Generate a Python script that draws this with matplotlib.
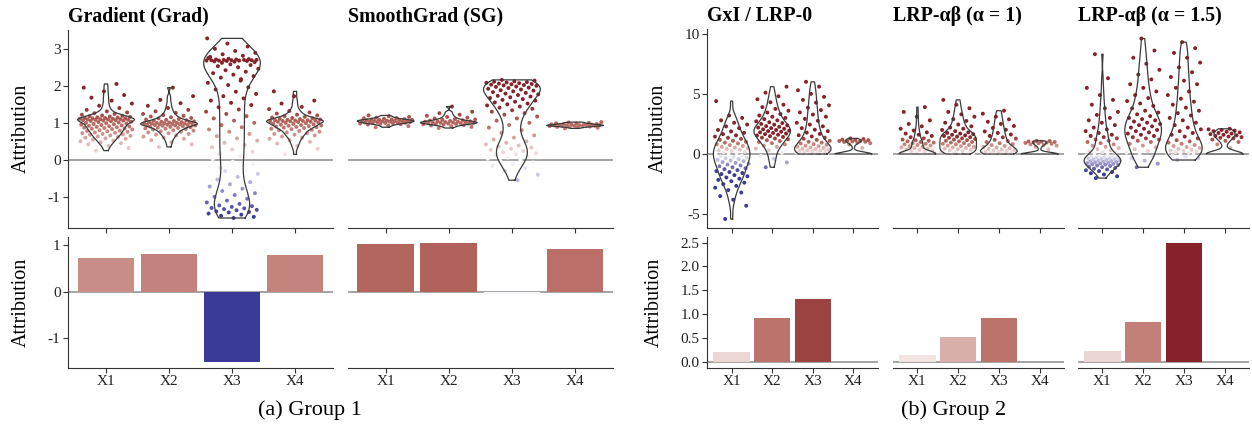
import numpy as np
import matplotlib
matplotlib.use("Agg")
import matplotlib.pyplot as plt
from matplotlib.colors import LinearSegmentedColormap, Normalize

plt.rcParams['font.family'] = ['Liberation Serif', 'DejaVu Serif']
plt.rcParams['axes.unicode_minus'] = False

features = ['X1', 'X2', 'X3', 'X4']

# ---- per-sample attributions (top row) ----
grad_x1 = [0.25, 0.32, 0.38, 0.42, 0.45, 0.48, 0.50, 0.52, 0.55, 0.57, 0.58, 0.60, 0.62, 0.63, 0.65,
           0.66, 0.68, 0.69, 0.70, 0.72, 0.73, 0.74, 0.76, 0.77, 0.78, 0.79, 0.80, 0.82, 0.83, 0.84,
           0.85, 0.86, 0.87, 0.88, 0.89, 0.90, 0.91, 0.92, 0.93, 0.94, 0.95, 0.96, 0.97, 0.98, 0.99,
           1.00, 1.01, 1.02, 1.03, 1.04, 1.05, 1.06, 1.06, 1.07, 1.07, 1.08, 1.08, 1.09, 1.09, 1.10,
           1.10, 1.11, 1.11, 1.12, 1.12, 1.13, 1.13, 1.14, 1.15, 1.16, 1.17, 1.18, 1.19, 1.20, 1.22,
           1.24, 1.26, 1.28, 1.31, 1.35, 1.40, 1.46, 1.52, 1.60, 1.68, 1.75, 1.85, 1.95, 2.05]
grad_x2 = [0.35, 0.42, 0.48, 0.53, 0.57, 0.60, 0.63, 0.66, 0.68, 0.70, 0.72, 0.74, 0.76, 0.77, 0.79,
           0.80, 0.82, 0.83, 0.84, 0.85, 0.86, 0.87, 0.88, 0.89, 0.90, 0.91, 0.92, 0.93, 0.93, 0.94,
           0.94, 0.95, 0.95, 0.96, 0.96, 0.97, 0.97, 0.98, 0.98, 0.99, 0.99, 1.00, 1.00, 1.01, 1.01,
           1.02, 1.02, 1.03, 1.04, 1.05, 1.06, 1.07, 1.08, 1.09, 1.10, 1.12, 1.13, 1.15, 1.17, 1.19,
           1.21, 1.24, 1.27, 1.31, 1.35, 1.40, 1.46, 1.53, 1.62, 1.72, 1.95]
grad_x3 = [2.62, 2.64, 2.65, 2.66, 2.67, 2.67, 2.68, 2.68, 2.68, 2.69, 2.69, 2.69, 2.70, 2.70, 2.70,
           2.71, 2.71, 2.72, 2.73, 2.75,
           2.18, 2.22, 2.26, 2.30, 2.34, 2.38, 2.42, 2.46, 2.50, 2.53, 2.56, 2.58, 2.78, 2.81, 2.85,
           2.89, 2.94, 3.00, 3.06, 3.14, 3.28,
           0.10, 0.16, 0.22, 0.28, 0.34, 0.40, 0.46, 0.52, 0.58, 0.64, 0.70, 0.76, 0.82, 0.88, 0.94,
           1.00, 1.06, 1.12, 1.18, 1.24, 1.30, 1.36, 1.42, 1.48, 1.54, 1.60, 1.66, 1.72, 1.78, 1.84,
           1.90, 1.96, 2.02, 2.08, 2.14,
           -0.22, -0.12, -0.05, 0.02, 0.07,
           -0.30, -0.38, -0.46, -0.53, -0.60, -0.66, -0.72, -0.78, -0.84, -0.90, -0.95, -1.00, -1.05,
           -1.10, -1.15, -1.19, -1.23, -1.25, -1.27, -1.30, -1.31, -1.33, -1.35, -1.36, -1.39, -1.41,
           -1.42, -1.45, -1.48, -1.51, -1.54, -1.57]
grad_x4 = [0.15, 0.30, 0.38, 0.44, 0.49, 0.53, 0.57, 0.60, 0.63, 0.66, 0.68, 0.70, 0.72, 0.74, 0.76,
           0.78, 0.80, 0.81, 0.83, 0.84, 0.86, 0.87, 0.88, 0.89, 0.90, 0.91, 0.92, 0.93, 0.94, 0.95,
           0.96, 0.97, 0.98, 0.99, 1.00, 1.01, 1.02, 1.03, 1.03, 1.04, 1.04, 1.05, 1.05, 1.06, 1.06,
           1.07, 1.07, 1.08, 1.09, 1.10, 1.11, 1.12, 1.13, 1.14, 1.16, 1.18, 1.20, 1.22, 1.25, 1.28,
           1.32, 1.37, 1.43, 1.52, 1.60, 1.72, 1.85]

sg_x1 = [0.88, 0.91, 0.93, 0.95, 0.96, 0.97, 0.98, 0.99, 0.99, 1.00, 1.00, 1.01, 1.01, 1.02, 1.02,
         1.03, 1.03, 1.04, 1.04, 1.05, 1.05, 1.05, 1.06, 1.06, 1.07, 1.07, 1.08, 1.08, 1.09, 1.09,
         1.10, 1.11, 1.12, 1.13, 1.14, 1.16, 1.18, 1.20]
sg_x2 = [0.86, 0.89, 0.91, 0.93, 0.94, 0.95, 0.96, 0.97, 0.97, 0.98, 0.98, 0.99, 0.99, 1.00, 1.00,
         1.01, 1.01, 1.02, 1.02, 1.03, 1.03, 1.04, 1.04, 1.05, 1.06, 1.07, 1.08, 1.09, 1.10, 1.12,
         1.14, 1.16, 1.19, 1.22, 1.26, 1.30, 1.44]
sg_x3 = [2.16, 2.14, 2.12, 2.11, 2.10, 2.09, 2.08, 2.07, 2.06, 2.05, 2.04, 2.03, 2.02, 2.01, 2.00,
         1.98, 1.97, 1.95, 1.94, 1.92, 1.90, 1.88, 1.87, 1.85, 1.83, 1.81, 1.79, 1.77, 1.75, 1.73,
         1.71, 1.69, 1.67, 1.64, 1.62, 1.60, 1.57, 1.55, 1.52, 1.50, 1.47, 1.44, 1.41, 1.38, 1.34,
         1.30, 1.26, 1.22, 1.17, 1.12, 1.06, 1.00, 0.94, 0.87, 0.80, 0.73, 0.66, 0.60, 0.55, 0.50,
         0.46, 0.42, 0.39, 0.36, 0.33, 0.30, 0.27, 0.24, 0.21, 0.18, 0.15, 0.12, 0.09, 0.06, 0.03,
         0.00, -0.03, -0.07, -0.11, -0.16, -0.22, -0.30, -0.40, -0.55]
sg_x4 = [0.85, 0.87, 0.88, 0.89, 0.90, 0.90, 0.91, 0.91, 0.92, 0.92, 0.92, 0.93, 0.93, 0.93, 0.94,
         0.94, 0.94, 0.95, 0.95, 0.96, 0.96, 0.97, 0.97, 0.98, 0.99, 1.00, 1.01, 1.02]

gxi_x1 = [-5.4, -4.3, -3.8, -3.5, -3.2, -3.0, -2.8, -2.65, -2.5, -2.38, -2.26, -2.15, -2.05, -1.95,
          -1.85, -1.76, -1.67, -1.58, -1.5, -1.42, -1.34, -1.26, -1.18, -1.1, -1.02, -0.95, -0.88,
          -0.81, -0.74, -0.67, -0.6, -0.54, -0.48, -0.42, -0.36, -0.3, -0.24, -0.18, -0.12, -0.06,
          0.0, 0.06, 0.12, 0.18, 0.24, 0.3, 0.36, 0.42, 0.48, 0.54, 0.6, 0.67, 0.74, 0.81, 0.88,
          0.95, 1.02, 1.1, 1.18, 1.26, 1.35, 1.45, 1.55, 1.65, 1.76, 1.88, 2.0, 2.15, 2.3, 2.45, 2.6,
          2.8, 3.0, 3.2, 4.4]
gxi_x2 = [-1.1, -0.7, -0.4, -0.15, 0.1, 0.3, 0.45, 0.6, 0.7, 0.8, 0.9, 1.0, 1.08, 1.15, 1.22, 1.29,
          1.36, 1.42, 1.48, 1.54, 1.6, 1.65, 1.7, 1.75, 1.8, 1.85, 1.9, 1.95, 2.0, 2.05, 2.1, 2.15,
          2.2, 2.26, 2.32, 2.38, 2.44, 2.5, 2.57, 2.64, 2.72, 2.8, 2.9, 3.0, 3.1, 3.2, 3.32, 3.45,
          3.6, 3.75, 3.9, 4.1, 4.3, 4.55, 4.8, 5.1, 5.6]
gxi_x3 = [0.0, 0.02, 0.04, 0.06, 0.08, 0.1, 0.12, 0.15, 0.18, 0.21, 0.24, 0.27, 0.3, 0.33, 0.37, 0.41,
          0.45, 0.5, 0.55, 0.6, 0.65, 0.7, 0.76, 0.82, 0.88, 0.95, 1.02, 1.1, 1.18, 1.27, 1.36, 1.46,
          1.56, 1.67, 1.78, 1.9, 2.02, 2.15, 2.3, 2.45, 2.6, 2.76, 2.92, 3.1, 3.28, 3.46, 3.65, 3.85,
          4.05, 4.27, 4.5, 4.75, 5.0, 5.3, 5.6, 6.0]
gxi_x4 = [0.0] * 25 + [0.5, 0.8, 0.9, 0.95, 1.0, 1.02, 1.05, 1.08, 1.1, 1.12, 1.15, 1.18, 1.2, 1.25,
                       1.3]

ab1_x1 = [0.0] * 30 + [0.05, 0.1, 0.15, 0.2, 0.25, 0.3, 0.35, 0.4, 0.45, 0.5, 0.55, 0.6, 0.65, 0.7,
                       0.75, 0.8, 0.85, 0.9, 0.95, 1.0, 1.05, 1.1, 1.15, 1.2, 1.3, 1.4, 1.5, 1.6,
                       1.7, 1.8, 1.95, 2.1, 2.3, 2.5, 2.8, 3.1, 3.5, 3.9]
ab1_x2 = [0.0, 0.0, 0.02, 0.05, 0.1, 0.15, 0.2, 0.25, 0.3, 0.35, 0.4, 0.45, 0.5, 0.55, 0.6, 0.65, 0.7,
          0.75, 0.8, 0.85, 0.9, 0.95, 1.0, 1.05, 1.1, 1.15, 1.2, 1.25, 1.3, 1.35, 1.4, 1.45, 1.5,
          1.55, 1.6, 1.65, 1.7, 1.75, 1.8, 1.9, 2.0, 2.1, 2.2, 2.3, 2.45, 2.6, 2.75, 2.9, 3.1, 3.3,
          3.5, 3.8, 4.1, 4.5]
ab1_x3 = [0.0, 0.0, 0.02, 0.04, 0.06, 0.08, 0.1, 0.12, 0.14, 0.17, 0.2, 0.23, 0.26, 0.3, 0.34, 0.38,
          0.43, 0.48, 0.54, 0.6, 0.67, 0.74, 0.82, 0.9, 0.99, 1.08, 1.18, 1.28, 1.39, 1.5, 1.62,
          1.75, 1.88, 2.02, 2.17, 2.33, 2.5, 2.68, 2.88, 3.1, 3.35, 3.6]
ab1_x4 = [0.0] * 25 + [0.4, 0.6, 0.7, 0.75, 0.8, 0.85, 0.9, 0.92, 0.95, 0.98, 1.0, 1.02, 1.05, 1.08,
                       1.1]

ab15_x1 = [-2.0, -1.85, -1.7, -1.6, -1.5, -1.42, -1.35, -1.28, -1.22, -1.16, -1.1, -1.05, -1.0, -0.96,
           -0.92, -0.88, -0.85, -0.82, -0.79, -0.76, -0.73, -0.7, -0.67, -0.64, -0.61, -0.58, -0.55,
           -0.52, -0.49, -0.46, -0.43, -0.4, -0.37, -0.34, -0.31, -0.28, -0.25, -0.22, -0.18, -0.14,
           -0.1, -0.05, 0.05, 0.1, 0.15, 0.2, 0.3, 0.4, 0.5, 0.6, 0.7, 0.8, 0.9, 1.0, 1.1, 1.2, 1.3,
           1.4, 1.5, 1.6, 1.75, 1.9, 2.05, 2.2, 2.4, 2.6, 2.8, 3.0, 3.25, 3.5, 3.8, 4.1, 4.5, 4.9,
           5.5, 6.3, 8.3]
ab15_x2 = [-1.1, -0.8, -0.55, -0.35, -0.2, -0.05, 0.1, 0.25, 0.4, 0.55, 0.7, 0.85, 1.0, 1.1, 1.2, 1.3,
           1.4, 1.5, 1.6, 1.7, 1.8, 1.9, 2.0, 2.1, 2.2, 2.3, 2.4, 2.5, 2.6, 2.7, 2.8, 2.9, 3.0, 3.15,
           3.3, 3.45, 3.6, 3.8, 4.0, 4.2, 4.4, 4.65, 4.9, 5.2, 5.5, 5.8, 6.2, 6.6, 7.0, 7.5, 8.0, 8.6,
           9.6]
ab15_x3 = [-0.5, -0.35, -0.22, -0.12, -0.05, 0.0, 0.05, 0.1, 0.15, 0.2, 0.25, 0.3, 0.36, 0.42, 0.5,
           0.58, 0.66, 0.75, 0.85, 0.95, 1.05, 1.15, 1.3, 1.45, 1.6, 1.75, 1.9, 2.05, 2.2, 2.4, 2.6,
           2.8, 3.0, 3.2, 3.4, 3.6, 3.85, 4.1, 4.35, 4.6, 4.9, 5.2, 5.5, 5.8, 6.1, 6.4, 6.8, 7.2, 7.6,
           8.0, 8.4, 8.8, 9.3]
ab15_x4 = [0.0] * 20 + [0.5, 0.8, 1.0, 1.1, 1.2, 1.3, 1.35, 1.4, 1.45, 1.5, 1.55, 1.6, 1.65, 1.7,
                        1.75, 1.8, 1.85, 1.9, 1.95, 2.0, 2.05, 2.1]

# ---- mean attributions (bottom row) ----
grad_bar = [0.74, 0.82, -1.51, 0.80]
sg_bar = [1.03, 1.06, -0.08, 0.93]
gxi_bar = [0.20, 0.91, 1.31, 0.0]
ab1_bar = [0.14, 0.52, 0.91, 0.0]
ab15_bar = [0.22, 0.83, 2.50, 0.0]

cmap = LinearSegmentedColormap.from_list('attr', [
    (0.0, '#3a3a98'), (0.25, '#9d9bcc'), (0.5, '#ffffff'), (0.5 + 0.2 / 3, '#ecd8d6'),
    (0.5 + 0.5 / 3, '#dbb3af'), (0.5 + 0.75 / 3, '#c98d87'), (0.5 + 0.9 / 3, '#bc746d'),
    (0.5 + 1.05 / 3, '#b2645c'), (0.5 + 1.3 / 3, '#9b4540'), (1.0, '#85222a')])
norm = Normalize(-1.5, 1.5, clip=True)

spine_c = '#333333'
zero_c = '#8c8c8c'


def style(ax, left=True, xlabels=False):
    for s in ['top', 'right']:
        ax.spines[s].set_visible(False)
    ax.spines['bottom'].set_color(spine_c)
    ax.spines['left'].set_color(spine_c)
    ax.spines['left'].set_visible(left)
    ax.tick_params(direction='out', length=3.5, width=0.8, color=spine_c, labelsize=11,
                   labelcolor='#222222', pad=2)
    if not left:
        ax.tick_params(axis='y', left=False, labelleft=False)
    ax.set_xticks(range(1, 5))
    if xlabels:
        ax.set_xticklabels(features)
    else:
        ax.set_xticklabels([])
    ax.set_xlim(0.4, 4.6)
    ax.axhline(0, color=zero_c, lw=1.1, zorder=1)
    ax.patch.set_alpha(0)


def violin(ax, pos, vals, adjust=0.7):
    v = np.asarray(vals, float)
    n = len(v)
    sd = v.std(ddof=1)
    q75, q25 = np.percentile(v, [75, 25])
    spread = min(sd, (q75 - q25) / 1.34) if q75 > q25 else sd
    bw = 0.9 * spread * n ** -0.2 * adjust
    grid = np.linspace(v.min(), v.max(), 300)
    dens = np.exp(-0.5 * ((grid[:, None] - v[None, :]) / bw) ** 2).sum(1)
    w = dens / dens.max() * 0.45
    xs = np.concatenate([pos + w, (pos - w)[::-1], [pos + w[0]]])
    ys = np.concatenate([grid, grid[::-1], [grid[0]]])
    ax.plot(xs, ys, color='#3a3a3a', lw=0.9, zorder=4)


def cloud(ax, pos, vals):
    v = np.asarray(vals, float)
    off = ((np.arange(len(v)) * 0.618034 + 0.31) % 1 - 0.5) * 0.84
    ax.scatter(pos + off, v, c=v, cmap=cmap, norm=norm, s=8, lw=0, zorder=2)


fig = plt.figure(figsize=(12.52, 4.33), dpi=100)
W, H = 1252, 433
top_b, top_h = 1 - 228 / H, 198.5 / H
bot_b, bot_h = 1 - 367.7 / H, 131 / H
cols = [(68.2, 264.6), (347.8, 265.1), (707.3, 170.4), (893, 171), (1078, 171)]

panels = [
    ('Gradient (Grad)', [grad_x1, grad_x2, grad_x3, grad_x4], grad_bar),
    ('SmoothGrad (SG)', [sg_x1, sg_x2, sg_x3, sg_x4], sg_bar),
    ('GxI / LRP-0', [gxi_x1, gxi_x2, gxi_x3, gxi_x4], gxi_bar),
    ('LRP-αβ (α = 1)', [ab1_x1, ab1_x2, ab1_x3, ab1_x4], ab1_bar),
    ('LRP-αβ (α = 1.5)', [ab15_x1, ab15_x2, ab15_x3, ab15_x4], ab15_bar),
]

for i, ((x0, w), (title, clouds, bars)) in enumerate(zip(cols, panels)):
    first = i in (0, 2)
    group1 = i < 2
    axt = fig.add_axes([x0 / W, top_b, w / W, top_h])
    axb = fig.add_axes([x0 / W, bot_b, w / W, bot_h])

    for k, vals in enumerate(clouds):
        cloud(axt, k + 1, vals)
        violin(axt, k + 1, vals)
    axb.bar(range(1, 5), bars, width=0.9, color=cmap(norm(np.array(bars))), zorder=2)

    style(axt, left=first)
    style(axb, left=first, xlabels=True)
    axt.set_title(title, loc='left', fontsize=14.3, fontweight='bold', pad=6)

    if group1:
        axt.set_ylim(-1.84, 3.52)
        axt.set_yticks([-1, 0, 1, 2, 3])
        axb.set_ylim(-1.64, 1.19)
        axb.set_yticks([-1, 0, 1])
    else:
        axt.set_ylim(-6.15, 10.35)
        axt.set_yticks([-5, 0, 5, 10])
        axb.set_ylim(-0.125, 2.625)
        axb.set_yticks([0, 0.5, 1, 1.5, 2, 2.5])
        axb.set_yticklabels(['0.0', '0.5', '1.0', '1.5', '2.0', '2.5'])
    if first:
        axt.set_ylabel('Attribution', fontsize=14.5, labelpad=12)
        axb.set_ylabel('Attribution', fontsize=14.5, labelpad=12)

fig.text(310 / W, 1 - 410 / H, '(a) Group 1', ha='center', va='center', fontsize=16)
fig.text(954 / W, 1 - 410 / H, '(b) Group 2', ha='center', va='center', fontsize=16)

fig.savefig('out.png', dpi=100)
